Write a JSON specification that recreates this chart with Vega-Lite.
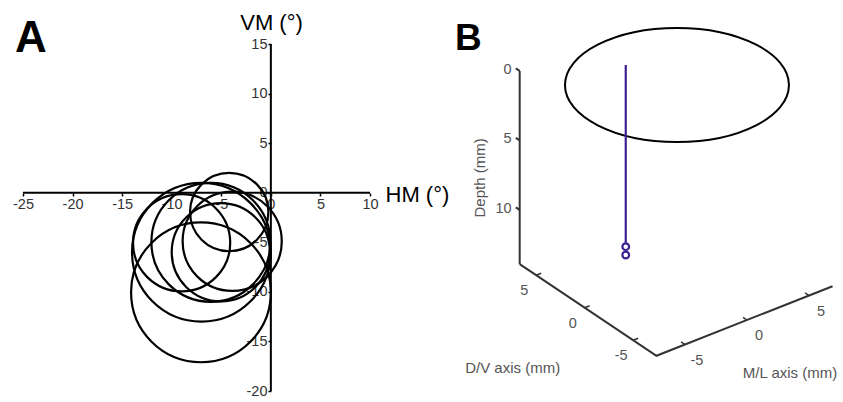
{
  "$schema": "https://vega.github.io/schema/vega-lite/v6.json",
  "autosize": {"type": "none"},
  "padding": 0,
  "width": 843,
  "height": 402,
  "background": "white",
  "config": {"view": {"stroke": null}, "font": "Liberation Sans"},
  "datasets": {
    "fields": [
      {"hm": -4.2, "vm": -1.95, "r": 3.95},
      {"hm": -7.05, "vm": -10.05, "r": 7.05},
      {"hm": -7.0, "vm": -6.0, "r": 7.0},
      {"hm": -9.0, "vm": -5.05, "r": 4.9},
      {"hm": -6.05, "vm": -5.0, "r": 6.0},
      {"hm": -5.05, "vm": -6.0, "r": 4.95},
      {"hm": -3.9, "vm": -4.9, "r": 5.0}
    ],
    "meridians": [
      {"line": "HM", "hm": -25, "hm2": 10, "vm": 0, "vm2": 0},
      {"line": "VM", "hm": 0, "hm2": 0, "vm": -20, "vm2": 15}
    ],
    "depthsegs": [
      {"part": "depth axis", "m": -7.3, "d": 6.7, "z": 0, "m2": -7.3, "d2": 6.7, "z2": 13.9},
      {"part": "tick", "m": -7.3, "d": 6.7, "z": 0, "m2": -7.3, "d2": 7.1, "z2": 0},
      {"part": "tick", "m": -7.3, "d": 6.7, "z": 5, "m2": -7.3, "d2": 7.1, "z2": 5},
      {"part": "tick", "m": -7.3, "d": 6.7, "z": 10, "m2": -7.3, "d2": 7.1, "z2": 10}
    ],
    "frame": [
      {"corner": 2, "m": -7.3, "d": 6.7, "z": 13.9},
      {"corner": 3, "m": -7.3, "d": -7.4, "z": 13.9},
      {"corner": 4, "m": 6.9, "d": -7.4, "z": 13.9}
    ],
    "segs": [
      {"part": "tick", "m": -7.3, "d": 5, "z": 13.9, "m2": -6.9, "d2": 5, "z2": 13.9},
      {"part": "tick", "m": -7.3, "d": 0, "z": 13.9, "m2": -6.9, "d2": 0, "z2": 13.9},
      {"part": "tick", "m": -7.3, "d": -5, "z": 13.9, "m2": -6.9, "d2": -5, "z2": 13.9},
      {"part": "tick", "m": -5, "d": -7.4, "z": 13.9, "m2": -5, "d2": -7.0, "z2": 13.9},
      {"part": "tick", "m": 0, "d": -7.4, "z": 13.9, "m2": 0, "d2": -7.0, "z2": 13.9},
      {"part": "tick", "m": 5, "d": -7.4, "z": 13.9, "m2": 5, "d2": -7.0, "z2": 13.9}
    ],
    "ticklabels": [
      {"axis": "dv", "label": "5", "m": -7.3, "d": 5, "z": 13.9},
      {"axis": "dv", "label": "0", "m": -7.3, "d": 0, "z": 13.9},
      {"axis": "dv", "label": "-5", "m": -7.3, "d": -5, "z": 13.9},
      {"axis": "ml", "label": "-5", "m": -5, "d": -7.4, "z": 13.9},
      {"axis": "ml", "label": "0", "m": 0, "d": -7.4, "z": 13.9},
      {"axis": "ml", "label": "5", "m": 5, "d": -7.4, "z": 13.9},
      {"axis": "depth", "label": "0", "m": -7.3, "d": 6.7, "z": 0},
      {"axis": "depth", "label": "5", "m": -7.3, "d": 6.7, "z": 5},
      {"axis": "depth", "label": "10", "m": -7.3, "d": 6.7, "z": 10}
    ],
    "electrode": [{"m": -1.47, "d": 3.22, "z": 0, "z2": 12.8}],
    "sites": [
      {"m": -1.47, "d": 3.22, "z": 13.07},
      {"m": -1.47, "d": 3.22, "z": 13.67}
    ],
    "cortex": [{"m": -0.39, "d": -0.68, "z": 0, "w": 224}]
  },
  "layer": [
    {
      "layer": [
        {
          "data": {"name": "meridians"},
          "mark": {"type": "rule", "color": "#000", "strokeWidth": 2},
          "encoding": {
            "x": {
              "field": "hm", "type": "quantitative",
              "scale": {"domain": [-27.32, 57.709], "nice": false, "zero": false},
              "axis": {
                "orient": "bottom", "offset": -209, "values": [-25, -20, -15, -10, -5, 0, 5, 10],
                "labelExpr": "'' + datum.value",
                "domain": false, "grid": false, "tickColor": "#000", "tickWidth": 1.5, "tickSize": 3,
                "labelFontSize": 14.5, "labelColor": "#333", "labelPadding": 1, "labelFlush": false, "labelOverlap": false,
                "title": "HM (°)", "titleAngle": 0, "titleX": 385, "titleY": 1, "titleAlign": "left", "titleBaseline": "middle",
                "titleFontSize": 22, "titleFontWeight": "normal", "titleColor": "#000"
              }
            },
            "y": {
              "field": "vm", "type": "quantitative",
              "scale": {"domain": [-21.109, 19.438], "nice": false, "zero": false},
              "axis": {
                "orient": "left", "offset": -271, "values": [-20, -15, -10, -5, 0, 5, 10, 15],
                "labelExpr": "'' + datum.value",
                "domain": false, "grid": false, "tickColor": "#000", "tickWidth": 1.5, "tickSize": 3,
                "labelFontSize": 14.5, "labelColor": "#333", "labelPadding": 1, "labelFlush": false, "labelOverlap": false,
                "title": "VM (°)", "titleAngle": 0, "titleX": 0, "titleY": 22, "titleAlign": "center", "titleBaseline": "middle",
                "titleFontSize": 22, "titleFontWeight": "normal", "titleColor": "#000"
              }
            },
            "x2": {"field": "hm2"},
            "y2": {"field": "vm2"}
          }
        },
        {
          "data": {"name": "fields"},
          "mark": {"type": "point", "shape": "circle", "filled": false, "stroke": "#000", "strokeWidth": 2.2, "opacity": 1},
          "encoding": {
            "x": {"field": "hm", "type": "quantitative"},
            "y": {"field": "vm", "type": "quantitative"},
            "size": {
              "field": "r", "type": "quantitative",
              "scale": {"type": "pow", "exponent": 2, "domain": [0, 10], "range": [0, 39320]},
              "legend": null
            }
          }
        },
        {
          "data": {"values": [{"label": "A"}]},
          "mark": {"type": "text", "align": "left", "baseline": "alphabetic", "fontSize": 44, "fontWeight": "bold", "color": "#000"},
          "encoding": {
            "x": {"datum": -25.8, "type": "quantitative"},
            "y": {"datum": 14.2, "type": "quantitative"},
            "text": {"field": "label"}
          }
        }
      ]
    },
    {
      "layer": [
        {
          "data": {"name": "frame"},
          "transform": [
            {"calculate": "12.4*datum.m - 9.7*datum.d", "as": "X"},
            {"calculate": "4.9*datum.m + 6.5*datum.d - 13.9*datum.z", "as": "Y"}
          ],
          "mark": {"type": "line", "color": "#333", "strokeWidth": 2, "strokeJoin": "miter"},
          "encoding": {
            "x": {"field": "X", "type": "quantitative", "scale": {"domain": [-675.2, 167.8], "nice": false, "zero": false}, "axis": null},
            "y": {"field": "Y", "type": "quantitative", "scale": {"domain": [-323.3, 78.7], "nice": false, "zero": false}, "axis": null},
            "order": {"field": "corner", "type": "quantitative"}
          }
        },
        {
          "data": {"name": "segs"},
          "transform": [
            {"calculate": "12.4*datum.m - 9.7*datum.d", "as": "X"},
            {"calculate": "4.9*datum.m + 6.5*datum.d - 13.9*datum.z", "as": "Y"},
            {"calculate": "12.4*datum.m2 - 9.7*datum.d2", "as": "X2"},
            {"calculate": "4.9*datum.m2 + 6.5*datum.d2 - 13.9*datum.z2", "as": "Y2"}
          ],
          "mark": {"type": "rule", "color": "#333", "strokeWidth": 1.5},
          "encoding": {
            "x": {"field": "X", "type": "quantitative"},
            "y": {"field": "Y", "type": "quantitative"},
            "x2": {"field": "X2"},
            "y2": {"field": "Y2"}
          }
        },
        {
          "data": {"name": "cortex"},
          "transform": [
            {"calculate": "12.4*datum.m - 9.7*datum.d", "as": "X"},
            {"calculate": "4.9*datum.m + 6.5*datum.d - 13.9*datum.z", "as": "Y"}
          ],
          "mark": {"type": "point", "filled": false, "stroke": "#000", "strokeWidth": 2, "opacity": 1,
                   "shape": "M-1,0C-1,-0.2811,-0.5523,-0.509,0,-0.509C0.5523,-0.509,1,-0.2811,1,0C1,0.2811,0.5523,0.509,0,0.509C-0.5523,0.509,-1,0.2811,-1,0Z"},
          "encoding": {
            "x": {"field": "X", "type": "quantitative"},
            "y": {"field": "Y", "type": "quantitative"},
            "size": {"field": "w", "type": "quantitative", "scale": {"type": "pow", "exponent": 2, "domain": [0, 224], "range": [0, 50176]}, "legend": null}
          }
        },
        {
          "data": {"name": "electrode"},
          "transform": [
            {"calculate": "12.4*datum.m - 9.7*datum.d", "as": "X"},
            {"calculate": "4.9*datum.m + 6.5*datum.d - 13.9*datum.z", "as": "Y"},
            {"calculate": "4.9*datum.m + 6.5*datum.d - 13.9*datum.z2", "as": "Y2"}
          ],
          "mark": {"type": "rule", "color": "#3d2090", "strokeWidth": 2.2},
          "encoding": {
            "x": {"field": "X", "type": "quantitative"},
            "y": {"field": "Y", "type": "quantitative"},
            "y2": {"field": "Y2"}
          }
        },
        {
          "data": {"name": "sites"},
          "transform": [
            {"calculate": "12.4*datum.m - 9.7*datum.d", "as": "X"},
            {"calculate": "4.9*datum.m + 6.5*datum.d - 13.9*datum.z", "as": "Y"}
          ],
          "mark": {"type": "point", "shape": "circle", "filled": false, "stroke": "#3d2090", "strokeWidth": 2.2, "size": 45, "opacity": 1},
          "encoding": {
            "x": {"field": "X", "type": "quantitative"},
            "y": {"field": "Y", "type": "quantitative"}
          }
        },
        {
          "data": {"name": "ticklabels"},
          "transform": [
            {"filter": "datum.axis == 'dv'"},
            {"calculate": "12.4*datum.m - 9.7*datum.d", "as": "X"},
            {"calculate": "4.9*datum.m + 6.5*datum.d - 13.9*datum.z", "as": "Y"}
          ],
          "mark": {"type": "text", "align": "center", "baseline": "middle", "dx": -12, "dy": 16, "fontSize": 14.5, "color": "#555"},
          "encoding": {
            "x": {"field": "X", "type": "quantitative"},
            "y": {"field": "Y", "type": "quantitative"},
            "text": {"field": "label"}
          }
        },
        {
          "data": {"name": "ticklabels"},
          "transform": [
            {"filter": "datum.axis == 'ml'"},
            {"calculate": "12.4*datum.m - 9.7*datum.d", "as": "X"},
            {"calculate": "4.9*datum.m + 6.5*datum.d - 13.9*datum.z", "as": "Y"}
          ],
          "mark": {"type": "text", "align": "center", "baseline": "middle", "dx": 12, "dy": 16, "fontSize": 14.5, "color": "#555"},
          "encoding": {
            "x": {"field": "X", "type": "quantitative"},
            "y": {"field": "Y", "type": "quantitative"},
            "text": {"field": "label"}
          }
        },
        {
          "data": {"name": "ticklabels"},
          "transform": [
            {"filter": "datum.axis == 'depth'"},
            {"calculate": "12.4*datum.m - 9.7*datum.d", "as": "X"},
            {"calculate": "4.9*datum.m + 6.5*datum.d - 13.9*datum.z", "as": "Y"}
          ],
          "mark": {"type": "text", "align": "right", "baseline": "middle", "dx": -8, "dy": -1, "fontSize": 14.5, "color": "#555"},
          "encoding": {
            "x": {"field": "X", "type": "quantitative"},
            "y": {"field": "Y", "type": "quantitative"},
            "text": {"field": "label"}
          }
        },
        {
          "data": {"values": [{"label": "Depth (mm)", "m": -7.3, "d": 6.7, "z": 7.7}]},
          "transform": [
            {"calculate": "12.4*datum.m - 9.7*datum.d", "as": "X"},
            {"calculate": "4.9*datum.m + 6.5*datum.d - 13.9*datum.z", "as": "Y"}
          ],
          "mark": {"type": "text", "align": "center", "baseline": "middle", "angle": 270, "dy": -40, "fontSize": 15, "color": "#555"},
          "encoding": {
            "x": {"field": "X", "type": "quantitative"},
            "y": {"field": "Y", "type": "quantitative"},
            "text": {"field": "label"}
          }
        },
        {
          "data": {"values": [{"label": "D/V axis (mm)", "m": -7.3, "d": 0, "z": 13.9}]},
          "transform": [
            {"calculate": "12.4*datum.m - 9.7*datum.d", "as": "X"},
            {"calculate": "4.9*datum.m + 6.5*datum.d - 13.9*datum.z", "as": "Y"}
          ],
          "mark": {"type": "text", "align": "center", "baseline": "middle", "dx": -72, "dy": 60, "fontSize": 15, "color": "#555"},
          "encoding": {
            "x": {"field": "X", "type": "quantitative"},
            "y": {"field": "Y", "type": "quantitative"},
            "text": {"field": "label"}
          }
        },
        {
          "data": {"values": [{"label": "M/L axis (mm)", "m": 0, "d": -7.4, "z": 13.9}]},
          "transform": [
            {"calculate": "12.4*datum.m - 9.7*datum.d", "as": "X"},
            {"calculate": "4.9*datum.m + 6.5*datum.d - 13.9*datum.z", "as": "Y"}
          ],
          "mark": {"type": "text", "align": "center", "baseline": "middle", "dx": 43, "dy": 53, "fontSize": 15, "color": "#555"},
          "encoding": {
            "x": {"field": "X", "type": "quantitative"},
            "y": {"field": "Y", "type": "quantitative"},
            "text": {"field": "label"}
          }
        },
        {
          "data": {"values": [{"label": "B"}]},
          "mark": {"type": "text", "align": "left", "baseline": "alphabetic", "fontSize": 37, "fontWeight": "bold", "color": "#000"},
          "encoding": {
            "x": {"datum": -220.2, "type": "quantitative"},
            "y": {"datum": 28.7, "type": "quantitative"},
            "text": {"field": "label"}
          }
        }
      ]
    },
    {
      "data": {"name": "depthsegs"},
      "transform": [
        {"calculate": "12.4*datum.m - 9.7*datum.d", "as": "DX"},
        {"calculate": "4.9*datum.m + 6.5*datum.d - 13.9*datum.z", "as": "DY"},
        {"calculate": "12.4*datum.m2 - 9.7*datum.d2", "as": "DX2"},
        {"calculate": "4.9*datum.m2 + 6.5*datum.d2 - 13.9*datum.z2", "as": "DY2"}
      ],
      "mark": {"type": "rule", "color": "#333", "strokeWidth": 2},
      "encoding": {
        "x": {"field": "DX", "type": "quantitative", "scale": {"domain": [-675.2, 167.8], "nice": false, "zero": false}, "axis": null},
        "y": {"field": "DY", "type": "quantitative", "scale": {"domain": [-323.3, 78.7], "nice": false, "zero": false}, "axis": null},
        "x2": {"field": "DX2"},
        "y2": {"field": "DY2"}
      }
    }
  ],
  "resolve": {"scale": {"x": "independent", "y": "independent", "size": "independent"}}
}
